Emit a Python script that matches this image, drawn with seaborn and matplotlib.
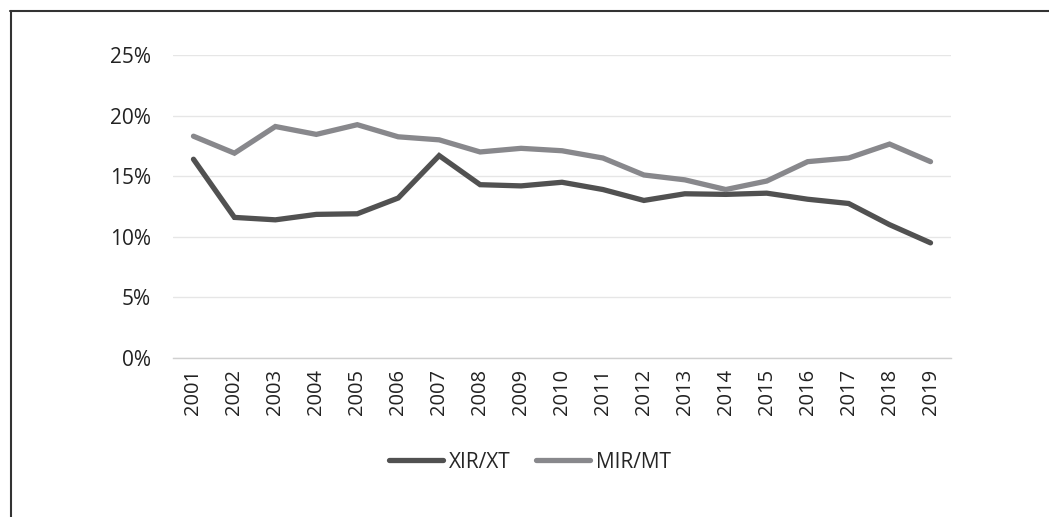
import numpy as np
import pandas as pd
import seaborn as sns
from matplotlib import pyplot as plt
from matplotlib.lines import Line2D
from matplotlib.ticker import PercentFormatter

years = [str(y) for y in range(2001, 2020)]
xir_xt = [16.4, 11.6, 11.4, 11.85, 11.9, 13.2, 16.7, 14.3, 14.2, 14.5,
          13.9, 13.0, 13.55, 13.5, 13.6, 13.1, 12.75, 11.0, 9.5]
mir_mt = [18.3, 16.9, 19.1, 18.45, 19.25, 18.25, 18.0, 17.0, 17.3, 17.1,
          16.5, 15.1, 14.7, 13.9, 14.6, 16.2, 16.5, 17.65, 16.2]
series_names = ["XIR/XT", "MIR/MT"]
colors = {"XIR/XT": "#515151", "MIR/MT": "#88888c"}

df = pd.DataFrame({"year": years, "XIR/XT": xir_xt, "MIR/MT": mir_mt})
long_df = df.melt(id_vars="year", var_name="serie", value_name="valor")

sns.set_style("white")
plt.rcParams["font.family"] = ["Open Sans", "DejaVu Sans"]

fig = plt.figure(figsize=(10.49, 5.17), dpi=100)
ax = fig.add_axes([173 / 1049, 1 - 358 / 517, (951 - 173) / 1049, (358 - 55) / 517])

sns.lineplot(data=long_df, x="year", y="valor", hue="serie", hue_order=series_names,
             palette=colors, linewidth=3.8, ax=ax, legend=False,
             solid_capstyle="round", solid_joinstyle="miter")

ax.set_xlim(-0.5, len(years) - 0.5)
ax.set_ylim(0, 25)
ax.set_yticks(np.arange(0, 26, 5))
ax.yaxis.set_major_formatter(PercentFormatter(decimals=0))
ax.grid(axis="y", color="#e6e6e6", linewidth=1.0)
ax.set_axisbelow(True)
for side in ["top", "right", "left"]:
    ax.spines[side].set_visible(False)
ax.spines["bottom"].set_color("#d0d0d0")
ax.spines["bottom"].set_linewidth(1.0)

# tick marks between categories like the original
ax.set_xticks(np.arange(len(years)))
ax.set_xticklabels(years, rotation=90, fontsize=14.5, color="#222222")
ax.set_xticks(np.arange(-0.5, len(years), 1), minor=True)
ax.tick_params(axis="x", which="major", length=0, pad=8)
ax.tick_params(axis="x", which="minor", length=6, color="#d0d0d0", width=1)
ax.tick_params(axis="y", length=0, labelsize=15, labelcolor="#222222", pad=16)
ax.set_xlabel("")
ax.set_ylabel("")

handles = [Line2D([0], [0], color=colors[n], linewidth=3.8, solid_capstyle="round")
           for n in series_names]
fig.legend(handles, series_names, loc="center", bbox_to_anchor=(530 / 1049, 1 - 462 / 517),
           ncol=2, frameon=False, fontsize=15, handlelength=2.6, handletextpad=0.3,
           columnspacing=1.2)

# frame around the chart (top and left edges only visible)
fig.add_artist(Line2D([10 / 1049, 1], [1 - 11 / 517, 1 - 11 / 517], color="#333333",
                      linewidth=1.5, transform=fig.transFigure))
fig.add_artist(Line2D([11 / 1049, 11 / 1049], [0, 1 - 11 / 517], color="#333333",
                      linewidth=1.5, transform=fig.transFigure))

fig.savefig("out.png", dpi=100)
